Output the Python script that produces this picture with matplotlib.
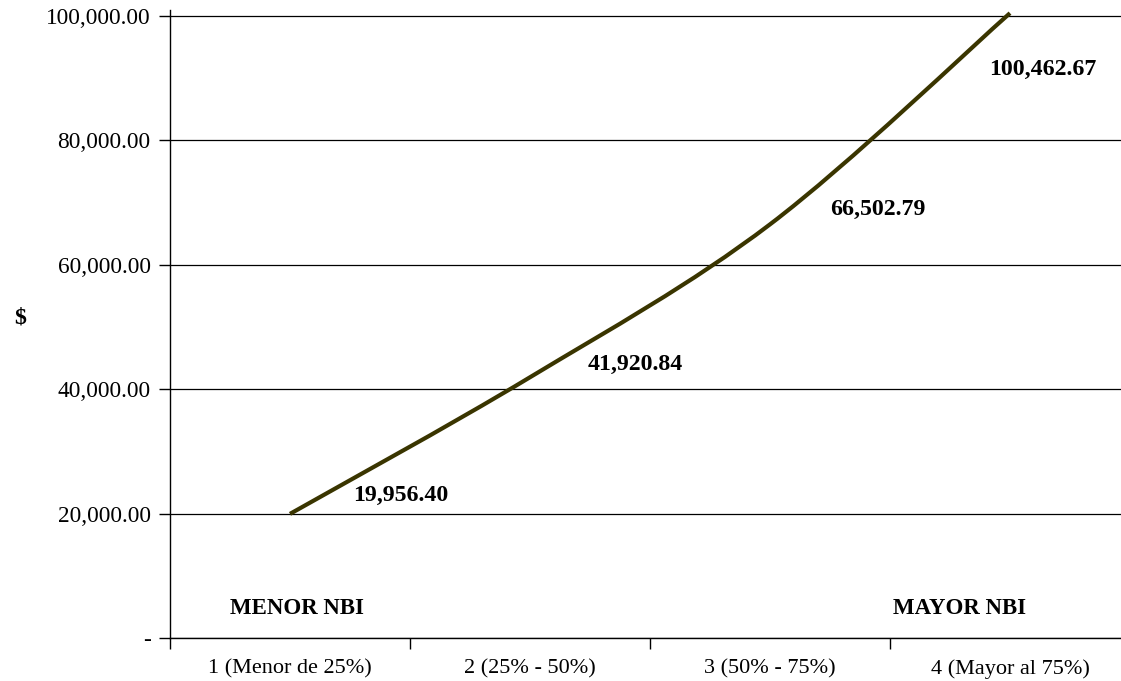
import matplotlib
matplotlib.use("Agg")
import matplotlib.pyplot as plt
from matplotlib.path import Path
from matplotlib.patches import PathPatch
import numpy as np

# data
categorias = ["1 (Menor de 25%)", "2 (25% - 50%)", "3 (50% - 75%)", "4 (Mayor al 75%)"]
valores = [19956.40, 41920.84, 66502.79, 100462.67]
y_ticks = [0, 20000, 40000, 60000, 80000, 100000]
# label offsets in pixels (dx, dy) from each point
offsets = [(111, 18), (105, 13), (108, 15), (33, -56)]

plt.rcParams["font.family"] = ["Liberation Serif", "DejaVu Serif"]
fs = 16.8
linecol = "#3a3500"

fig = plt.figure(figsize=(11.21, 6.81), dpi=100)
ax = fig.add_axes([170/1121, 43/681, 951/1121, 628/681])

x = np.arange(1, len(valores) + 1)
y = np.array(valores)

# smoothed line (bezier through the points, like the spreadsheet "smooth line")
pts = np.column_stack([x, y])
verts = [pts[0]]
codes = [Path.MOVETO]
for i in range(len(pts) - 1):
    p0 = pts[i - 1] if i > 0 else pts[i]
    p1 = pts[i]
    p2 = pts[i + 1]
    p3 = pts[i + 2] if i + 2 < len(pts) else pts[i + 1]
    c1 = p1 + (p2 - p0) / 6
    c2 = p2 - (p3 - p1) / 6
    verts += [c1, c2, p2]
    codes += [Path.CURVE4] * 3
ax.add_patch(PathPatch(Path(verts, codes), facecolor="none", edgecolor=linecol,
                       lw=3, capstyle="butt", zorder=3, clip_on=False))

for xi, yi, (dx, dy) in zip(x, valores, offsets):
    ax.annotate(f"{yi:,.2f}", (xi, yi), xytext=(dx, dy), textcoords="offset pixels",
                ha="center", va="center", fontsize=17.2, fontweight="bold")

ax.text(1.03, 4700, "MENOR NBI", ha="center", va="center", fontsize=16.5, fontweight="bold")
ax.text(3.79, 4700, "MAYOR NBI", ha="center", va="center", fontsize=16.5, fontweight="bold")

ax.set_xlim(0.5, 0.5 + 951/240)
ax.set_ylim(0, 100965)

ax.set_yticks(y_ticks)
ax.set_yticklabels(["-"] + [f"{v:,.2f}" for v in y_ticks[1:]], fontsize=fs)
ax.yaxis.grid(True, color="black", lw=0.9)
ax.set_axisbelow(True)

ax.set_xticks([0.5, 1.5, 2.5, 3.5])
ax.set_xticklabels([])
ax.set_xticks(x, minor=True)
ax.set_xticklabels(categorias, minor=True, fontsize=16)
ax.tick_params(axis="x", which="major", length=8, width=1, direction="out")
ax.tick_params(axis="x", which="minor", length=0, pad=15)
ax.tick_params(axis="y", length=8, width=1, direction="out", pad=6)

for s in ["top", "right"]:
    ax.spines[s].set_visible(False)
for s in ["left", "bottom"]:
    ax.spines[s].set_linewidth(1)

fig.text(20/1121, 1 - 318/681, "$", ha="center", va="center", fontsize=17.2, fontweight="bold")

fig.savefig("out.png", dpi=100)
